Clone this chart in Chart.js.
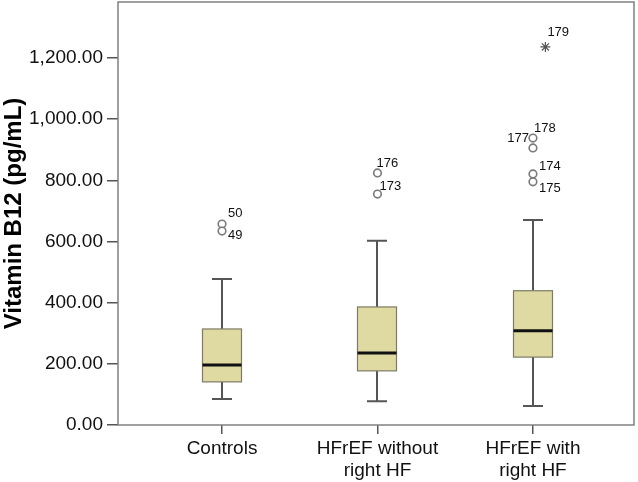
<!DOCTYPE html>
<html>
<head>
<meta charset="utf-8">
<script src="https://cdn.jsdelivr.net/npm/chart.js@4.4.1/dist/chart.umd.min.js"></script>
<style>
html,body{margin:0;padding:0;background:#fff;}
#wrap{width:638px;height:482px;}
</style>
</head>
<body>
<div id="wrap"><canvas id="c" width="638" height="482"></canvas></div>
<script>
// ---- data ----
const categories = [["Controls"], ["HFrEF without", "right HF"], ["HFrEF with", "right HF"]];
const whiskerLow  = [85, 78, 62];
const q1          = [141, 177, 222];
const median      = [196, 235, 308];
const q3          = [314, 386, 439];
const whiskerHigh = [477, 602, 670];
// outliers: group index (1-based), value, case label
const outlierGroup = [1, 1, 2, 2, 3, 3, 3, 3];
const outlierValue = [657, 634, 824, 755, 938, 906, 821, 795];
const outlierLabel = ["50", "49", "176", "173", "178", "177", "174", "175"];
const extremeGroup = [3.08];
const extremeValue = [1236];
const extremeLabel = ["179"];
const yTicks = [0, 200, 400, 600, 800, 1000, 1200];

// ---- label placement styles (px offsets from the point) ----
const outlierLabelStyle = [
  {dx: 6, dy: -11, align: 'left'},
  {dx: 6, dy: 4, align: 'left'},
  {dx: -1, dy: -10, align: 'left'},
  {dx: 2, dy: -8, align: 'left'},
  {dx: 1, dy: -10, align: 'left'},
  {dx: -4, dy: -9, align: 'right'},
  {dx: 6, dy: -7, align: 'left'},
  {dx: 6, dy: 7, align: 'left'}
];
const extremeLabelStyle = [{dx: 2, dy: -15, align: 'left'}];

const FONT = "'Liberation Sans', Arial, sans-serif";

const boxPlugin = {
  id: 'boxes',
  beforeDatasetsDraw(chart) {
    const {ctx, scales: {x, y}} = chart;
    ctx.save();
    for (let i = 0; i < categories.length; i++) {
      const cx = Math.round(x.getPixelForValue(i + 1));
      const half = 19.5, cap = 10;
      const yLo = y.getPixelForValue(whiskerLow[i]);
      const yQ1 = y.getPixelForValue(q1[i]);
      const yMd = y.getPixelForValue(median[i]);
      const yQ3 = y.getPixelForValue(q3[i]);
      const yHi = y.getPixelForValue(whiskerHigh[i]);
      // whiskers
      ctx.strokeStyle = '#555';
      ctx.lineWidth = 2;
      ctx.beginPath();
      ctx.moveTo(cx, yQ3); ctx.lineTo(cx, yHi);
      ctx.moveTo(cx - cap, yHi); ctx.lineTo(cx + cap, yHi);
      ctx.moveTo(cx, yQ1); ctx.lineTo(cx, yLo);
      ctx.moveTo(cx - cap, yLo); ctx.lineTo(cx + cap, yLo);
      ctx.stroke();
      // box
      ctx.fillStyle = '#DFDAA2';
      ctx.fillRect(cx - half, yQ3, half * 2, yQ1 - yQ3);
      ctx.strokeStyle = '#7d7b66';
      ctx.lineWidth = 1.2;
      ctx.strokeRect(cx - half, yQ3, half * 2, yQ1 - yQ3);
      // median
      ctx.strokeStyle = '#111';
      ctx.lineWidth = 3;
      ctx.beginPath();
      ctx.moveTo(cx - half, yMd); ctx.lineTo(cx + half, yMd);
      ctx.stroke();
    }
    ctx.restore();
  },
  afterDatasetsDraw(chart) {
    const {ctx, scales: {x, y}} = chart;
    ctx.save();
    ctx.font = "13px " + FONT;
    ctx.fillStyle = '#111';
    ctx.textBaseline = 'middle';
    const put = (gx, v, txt, st) => {
      const px = x.getPixelForValue(gx), py = y.getPixelForValue(v);
      ctx.textAlign = st.align;
      ctx.fillText(txt, px + st.dx, py + st.dy);
    };
    outlierValue.forEach((v, i) => put(outlierGroup[i], v, outlierLabel[i], outlierLabelStyle[i]));
    extremeValue.forEach((v, i) => put(extremeGroup[i], v, extremeLabel[i], extremeLabelStyle[i]));
    ctx.restore();
  },
  afterDraw(chart) {
    const {ctx, chartArea: a} = chart;
    ctx.save();
    ctx.strokeStyle = '#808080';
    ctx.lineWidth = 1.5;
    ctx.strokeRect(a.left, a.top, a.right - a.left, a.bottom - a.top);
    ctx.restore();
  }
};

new Chart(document.getElementById('c'), {
  type: 'scatter',
  data: {
    datasets: [
      {
        data: outlierValue.map((v, i) => ({x: outlierGroup[i], y: v})),
        pointStyle: 'circle',
        pointRadius: 3.8,
        pointBorderWidth: 1.6,
        pointBorderColor: '#7a7a7a',
        pointBackgroundColor: '#ffffff'
      },
      {
        data: extremeValue.map((v, i) => ({x: extremeGroup[i], y: v})),
        pointStyle: 'star',
        pointRadius: 5,
        pointBorderWidth: 1.2,
        pointBorderColor: '#555',
        pointBackgroundColor: '#555'
      }
    ]
  },
  options: {
    responsive: false,
    animation: false,
    events: [],
    layout: {autoPadding: false, padding: {left: 0, right: 4, top: 2, bottom: 0}},
    plugins: {legend: {display: false}, tooltip: {enabled: false}},
    scales: {
      x: {
        type: 'linear',
        min: 0.331,
        max: 3.65,
        afterBuildTicks: s => { s.ticks = [1, 2, 3].map(v => ({value: v})); },
        afterFit: s => { s.height = 57; s.paddingLeft = 0; s.paddingRight = 0; },
        ticks: {
          callback: v => categories[v - 1],
          color: '#111',
          font: {family: FONT, size: 19, lineHeight: 1.15},
          padding: 4,
          maxRotation: 0,
          autoSkip: false
        },
        grid: {drawOnChartArea: false, drawTicks: true, tickLength: 9, color: '#555', lineWidth: 1.5},
        border: {display: false}
      },
      y: {
        type: 'linear',
        min: 0,
        max: 1383,
        afterBuildTicks: s => { s.ticks = yTicks.map(v => ({value: v})); },
        afterFit: s => { s.width = 118; s.paddingTop = 0; s.paddingBottom = 0; },
        ticks: {
          callback: v => v.toLocaleString('en-US', {minimumFractionDigits: 2, maximumFractionDigits: 2}),
          color: '#111',
          font: {family: FONT, size: 19},
          padding: 4
        },
        grid: {drawOnChartArea: false, drawTicks: true, tickLength: 11, color: '#555', lineWidth: 1.5},
        border: {display: false},
        title: {
          display: true,
          text: 'Vitamin B12 (pg/mL)',
          color: '#000',
          font: {family: FONT, size: 24, weight: 'bold', lineHeight: 1.2},
          padding: {top: 0, bottom: 0}
        }
      }
    }
  },
  plugins: [boxPlugin]
});
</script>
</body>
</html>
